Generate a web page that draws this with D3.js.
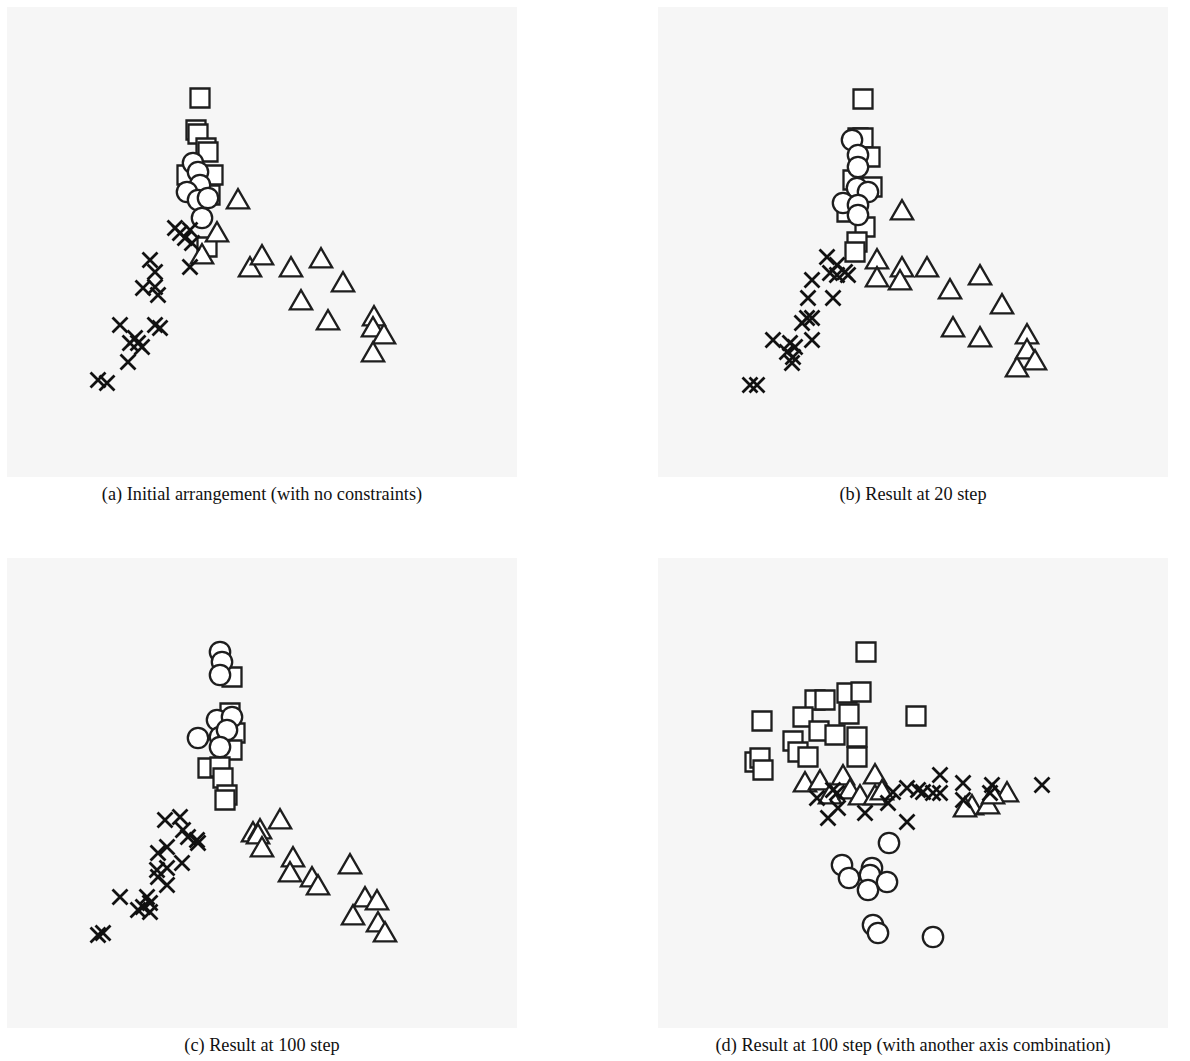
<!DOCTYPE html>
<html>
<head>
<meta charset="utf-8">
<script src="https://cdn.jsdelivr.net/npm/d3@7"></script>
<style>
  body { margin: 0; background: #fff; }
  svg text { font-family: "Liberation Serif", "Times New Roman", serif; }
</style>
</head>
<body>
<div id="chart"></div>
<script>
// panel data, in the panel's own projection units (x right, y down, 0..510 x 0..470)

// (a) initial arrangement
var aSquares = [[193,91],[189,123],[191,127],[199,141],[201,145],[180,168],[206,168],[203,188],[200,240]];
var aCircles = [[186,156],[191,165],[193,178],[180,185],[191,193],[201,191],[195,211]];
var aTriangles = [[231,195],[210,228],[195,250],[243,263],[255,251],[284,263],[314,254],[336,278],[294,296],[321,316],[367,312],[366,323],[377,330],[366,348]];
var aCrosses = [[168,221],[173,226],[183,223],[185,236],[178,231],[183,260],[143,253],[148,265],[136,281],[148,280],[151,288],[113,318],[148,318],[153,321],[128,331],[131,336],[123,336],[135,340],[121,355],[91,373],[100,376]];

// (b) 20 steps
var bSquares = [[205,92],[200,131],[205,131],[212,150],[195,173],[214,180],[189,205],[207,220],[199,235],[197,245]];
var bCircles = [[194,133],[200,148],[200,160],[199,181],[210,185],[185,196],[200,198],[200,208]];
var bTriangles = [[219,255],[219,273],[244,206],[244,263],[242,276],[269,263],[322,271],[292,285],[344,300],[295,323],[322,333],[369,330],[369,345],[377,356],[359,363]];
var bCrosses = [[169,250],[179,258],[172,266],[179,268],[187,265],[190,268],[154,273],[150,291],[175,291],[149,311],[154,311],[144,316],[115,333],[154,333],[132,336],[137,340],[129,345],[135,350],[134,356],[92,378],[99,378]];

// (c) 100 steps
var cSquares = [[225,119],[223,155],[228,175],[225,192],[201,210],[213,209],[216,220],[220,237],[218,242]];
var cCircles = [[213,94],[215,104],[213,117],[210,162],[225,159],[191,180],[213,179],[220,172],[213,189]];
var cTriangles = [[273,264],[246,277],[253,274],[251,279],[255,292],[286,302],[283,317],[305,322],[311,330],[343,309],[358,342],[370,345],[346,360],[371,367],[378,377]];
var cCrosses = [[158,262],[173,259],[176,272],[181,279],[190,282],[191,285],[160,289],[151,295],[160,310],[150,312],[175,305],[151,319],[160,327],[113,339],[140,339],[143,345],[136,349],[131,352],[143,354],[91,377],[96,375]];

// (d) 100 steps, other axes
var dSquares = [[208,94],[104,163],[258,158],[157,142],[167,142],[189,135],[203,134],[145,159],[191,156],[161,173],[177,177],[199,179],[135,183],[140,194],[150,199],[199,199],[97,204],[102,200],[105,212]];
var dCircles = [[231,285],[184,307],[191,320],[214,310],[212,317],[210,332],[229,324],[215,367],[220,375],[275,379]];
var dTriangles = [[147,227],[162,225],[185,220],[217,219],[172,239],[192,234],[202,240],[217,240],[224,235],[314,250],[307,252],[330,249],[349,237],[335,239]];
var dCrosses = [[175,232],[179,235],[159,240],[180,250],[170,260],[207,255],[230,245],[235,234],[249,230],[260,232],[265,234],[275,235],[282,217],[282,235],[305,225],[305,242],[334,227],[332,235],[384,227],[249,264]];

var captions = [
  "(a) Initial arrangement (with no constraints)",
  "(b) Result at 20 step",
  "(c) Result at 100 step",
  "(d) Result at 100 step (with another axis combination)"
];

var panels = [
  {sq: aSquares, ci: aCircles, tr: aTriangles, cr: aCrosses, left: 7, top: 7},
  {sq: bSquares, ci: bCircles, tr: bTriangles, cr: bCrosses, left: 658, top: 7},
  {sq: cSquares, ci: cCircles, tr: cTriangles, cr: cCrosses, left: 7, top: 558},
  {sq: dSquares, ci: dCircles, tr: dTriangles, cr: dCrosses, left: 658, top: 558}
];

var svgWidth = 1190, svgHeight = 1061;
var panelW = 510, panelH = 470;
var ink = "#1e1e1e";

var svg = d3.select("#chart").append("svg")
  .attr("width", svgWidth)
  .attr("height", svgHeight);

var square = d3.symbol().type(d3.symbolSquare).size(19 * 19);
var triangle = d3.symbol().type(d3.symbolTriangle).size(215);

panels.forEach(function(p, i) {
  var g = svg.append("g")
    .attr("transform", `translate(${p.left}, ${p.top})`);

  var xScale = d3.scaleLinear().domain([0, 510]).range([0, panelW]);
  var yScale = d3.scaleLinear().domain([0, 470]).range([0, panelH]);

  g.append("rect")
    .attr("width", panelW)
    .attr("height", panelH)
    .attr("fill", "#f6f6f6");

  g.selectAll(".sq")
    .data(p.sq)
    .enter()
    .append("path")
    .attr("class", "sq")
    .attr("d", square)
    .attr("transform", d => `translate(${xScale(d[0])}, ${yScale(d[1])})`)
    .attr("fill", "white")
    .attr("stroke", ink)
    .attr("stroke-width", 2.3);

  g.selectAll(".ci")
    .data(p.ci)
    .enter()
    .append("circle")
    .attr("class", "ci")
    .attr("cx", d => xScale(d[0]))
    .attr("cy", d => yScale(d[1]))
    .attr("r", 10.2)
    .attr("fill", "white")
    .attr("stroke", ink)
    .attr("stroke-width", 2.3);

  g.selectAll(".tr")
    .data(p.tr)
    .enter()
    .append("path")
    .attr("class", "tr")
    .attr("d", triangle)
    .attr("transform", d => `translate(${xScale(d[0])}, ${yScale(d[1])})`)
    .attr("fill", "white")
    .attr("stroke", ink)
    .attr("stroke-width", 2.3)
    .attr("stroke-linejoin", "miter");

  g.selectAll(".cr")
    .data(p.cr)
    .enter()
    .append("path")
    .attr("class", "cr")
    .attr("d", function(d) {
      var x = xScale(d[0]), y = yScale(d[1]), h = 7.5;
      return `M${x - h},${y - h}L${x + h},${y + h}M${x - h},${y + h}L${x + h},${y - h}`;
    })
    .attr("fill", "none")
    .attr("stroke", "#111")
    .attr("stroke-width", 2.8);

  g.append("text")
    .attr("x", panelW / 2)
    .attr("y", panelH + 23)
    .attr("text-anchor", "middle")
    .style("font-size", "18.3px")
    .attr("fill", "#111")
    .text(captions[i]);
});
</script>
</body>
</html>
